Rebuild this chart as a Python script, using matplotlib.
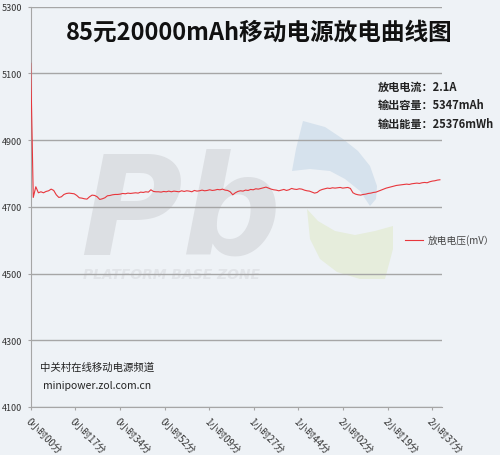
import matplotlib.pyplot as plt
import numpy as np
from matplotlib.patches import Polygon

plt.rcParams['font.family'] = ['Noto Sans CJK SC', 'DejaVu Sans']

# 放电电压, 每分钟一个读数 (mV)
voltage = [
    5130, 4728, 4760, 4742, 4745, 4742, 4746, 4748, 4753, 4749,
    4736, 4728, 4730, 4737, 4740, 4741, 4740, 4739, 4734, 4727,
    4726, 4724, 4723, 4730, 4735, 4734, 4730, 4722, 4724, 4727,
    4733, 4734, 4736, 4737, 4737, 4738, 4740, 4739, 4741, 4740,
    4741, 4742, 4741, 4744, 4743, 4745, 4744, 4751, 4746, 4745,
    4745, 4744, 4746, 4745, 4747, 4745, 4747, 4746, 4745, 4748,
    4746, 4748, 4747, 4745, 4749, 4747, 4748, 4750, 4748, 4749,
    4751, 4749, 4750, 4752, 4751, 4753, 4750, 4749, 4745, 4736,
    4742, 4746, 4748, 4747, 4750, 4749, 4752, 4751, 4754, 4753,
    4755, 4757, 4759, 4756, 4753, 4751, 4750, 4748, 4750, 4752,
    4749, 4751, 4755, 4753, 4752, 4754, 4753, 4750, 4748, 4747,
    4744, 4741, 4743, 4749, 4752, 4754, 4756, 4755, 4757, 4756,
    4757, 4758, 4756, 4757, 4758, 4755, 4742, 4738, 4736, 4735,
    4737, 4738, 4740, 4741, 4743, 4744, 4747, 4750, 4753, 4756,
    4758, 4760, 4762, 4764, 4765, 4766, 4767, 4768, 4767, 4769,
    4770, 4771, 4770, 4772, 4773, 4772, 4775, 4777, 4778, 4780, 4781,
]
tick_labels = ['0小时00分', '0小时17分', '0小时34分', '0小时52分', '1小时09分',
               '1小时27分', '1小时44分', '2小时02分', '2小时19分', '2小时37分']
y_ticks = [4100, 4300, 4500, 4700, 4900, 5100, 5300]
title = '85元20000mAh移动电源放电曲线图'
info = ['放电电流：2.1A', '输出容量：5347mAh', '输出能量：25376mWh']

bg = '#eef2f6'
grid_c = '#a6a6a6'

fig = plt.figure(figsize=(5, 4.56), dpi=100, facecolor=bg)

# 背景水印 (像素坐标)
wm = fig.add_axes([0, 0, 1, 1], zorder=0)
wm.set_xlim(0, 500)
wm.set_ylim(456, 0)
wm.axis('off')
wm.text(80, 255, 'Pb', fontsize=100, fontweight='bold', fontstyle='italic',
        color='#dcdfe3', family='DejaVu Sans', va='baseline', ha='left')
wm.text(83, 279, 'PLATFORM BASE ZONE', fontsize=10, fontweight='bold',
        fontstyle='italic', color='#e1e4e8', family='DejaVu Sans', va='baseline')
blue_leaf = [(303, 122), (325, 128), (343, 140), (358, 152), (370, 167), (377, 187),
             (376, 200), (370, 207), (360, 192), (345, 180), (330, 172), (310, 170),
             (292, 172), (296, 150)]
green_leaf = [(307, 210), (310, 240), (320, 260), (337, 273), (360, 280), (385, 280),
              (393, 250), (393, 227), (375, 232), (355, 236), (335, 232), (318, 222)]
wm.add_patch(Polygon(blue_leaf, closed=True, color='#d6e2ed', lw=0))
wm.add_patch(Polygon(green_leaf, closed=True, color='#e6eddc', lw=0))

ax = fig.add_axes([30.7 / 500, 48 / 456, 411 / 500, 400.4 / 456], zorder=1)
ax.patch.set_alpha(0)

x = np.arange(len(voltage))
ax.plot(x, voltage, color='#e8363c', lw=0.8, label='放电电压(mV）', zorder=3)

ax.set_xlim(0, 160.7)
ax.set_ylim(4100, 5300)
ax.set_yticks(y_ticks)
ax.set_yticklabels([str(v) for v in y_ticks], fontsize=6.5, color='#333333')
ax.yaxis.grid(True, color=grid_c, lw=1)
ax.set_axisbelow(True)

xt = np.arange(len(tick_labels)) * 157 / 9
ax.set_xticks(xt)
ax.set_xticklabels(tick_labels, rotation=-45, ha='left', va='top',
                   rotation_mode='anchor', fontsize=7, color='#333333')
ax.tick_params(axis='x', length=2.2, color=grid_c, pad=4)
ax.tick_params(axis='y', length=2.2, color=grid_c, pad=4)
for s in ['top', 'right']:
    ax.spines[s].set_visible(False)
ax.spines['left'].set_color(grid_c)
ax.spines['bottom'].set_color(grid_c)

fig.text(259 / 500, 1 - 33 / 456, title, fontsize=17, fontweight='bold',
         ha='center', va='center', color='#111111')
for i, t in enumerate(info):
    fig.text(378 / 500, 1 - (87 + i * 18.5) / 456, t, fontsize=8,
             fontweight='bold', ha='left', va='center', color='#222222')

fig.text(40 / 500, 1 - 368 / 456, '中关村在线移动电源频道', fontsize=7.5,
         ha='left', va='center', color='#222222')
fig.text(43 / 500, 1 - 386 / 456, 'minipower.zol.com.cn', fontsize=7.5,
         ha='left', va='center', color='#222222')

leg = ax.legend(loc='upper left', bbox_to_anchor=(370 / 411, 1 - 224 / 400.4),
                frameon=False, fontsize=7, handlelength=1.9, handletextpad=0.5,
                borderaxespad=0)
for t in leg.get_texts():
    t.set_color('#444444')

fig.savefig('out.png', dpi=100, facecolor=bg)
